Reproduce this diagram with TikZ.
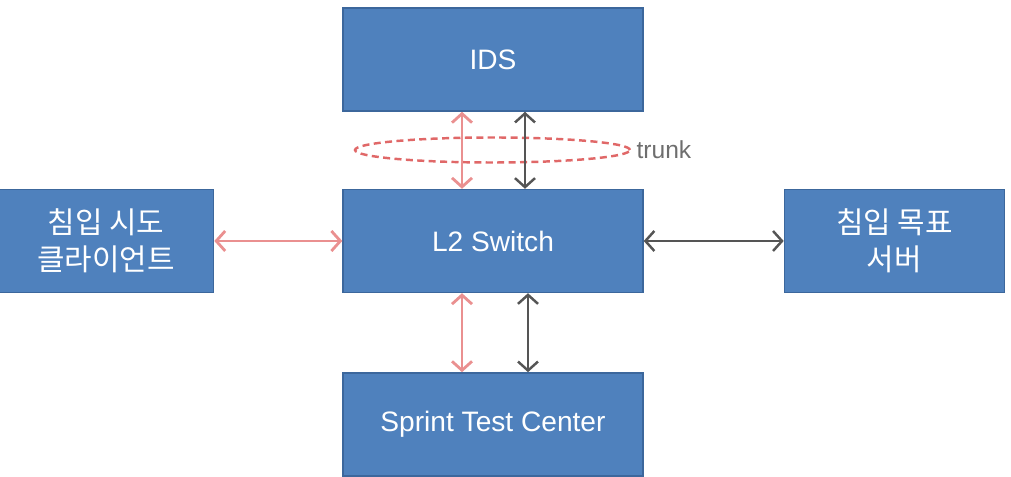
\documentclass[tikz,border=0pt]{standalone}
\usepackage{fontspec}
\setmainfont{Liberation Sans}
\newfontfamily\krfont{Noto Sans CJK KR}
\usepackage{xcolor}
\usetikzlibrary{arrows.meta,positioning,shapes.geometric}
\definecolor{boxblue}{HTML}{4F81BD}
\definecolor{boxedge}{HTML}{3C679C}
\definecolor{linkred}{HTML}{EA9090}
\definecolor{linkgrey}{HTML}{555555}
\definecolor{ringred}{HTML}{E06868}

\begin{document}
\begin{tikzpicture}[
  font=\fontsize{16}{21}\selectfont,
  box/.style={draw=boxedge, line width=0.8pt, fill=boxblue, text=white,
    align=center, minimum height=2.06cm, inner sep=2pt},
  redarr/.style={{Straight Barb[length=1.8mm, width=4mm]}-{Straight Barb[length=1.8mm, width=4mm]},
    draw=linkred, line width=1.6pt},
  greyarr/.style={{Straight Barb[length=1.8mm, width=4mm]}-{Straight Barb[length=1.8mm, width=4mm]},
    draw=linkgrey, line width=1.4pt}
]
\useasboundingbox (0,0) rectangle (20.22,-9.54);

% --- centre column: IDS / switch / test center ---
\node[box, minimum width=6cm] (sw) at (9.86,-4.82) {L2 Switch};
\node[box, minimum width=6cm, above=1.54cm of sw] (ids) {IDS};
\node[box, minimum width=6cm, below=1.58cm of sw] (stc) {Sprint Test Center};

% --- side boxes ---
\node[box, minimum width=4.3cm, left=2.56cm of sw, font=\krfont\fontsize{17}{21}\selectfont] (cli)
  {침입 시도\\클라이언트};
\node[box, minimum width=4.4cm, right=2.8cm of sw, font=\krfont\fontsize{17}{21}\selectfont] (srv)
  {침입 목표\\서버};

% --- trunk ring ---
\node[draw=ringred, dash pattern=on 4pt off 2.5pt, line width=1.4pt, ellipse,
      minimum width=5.5cm, minimum height=0.5cm, inner sep=0pt] (ring) at (9.85,-3.0) {};
\node[right=0.1cm of ring, text=linkgrey!85, font=\fontsize{14}{16}\selectfont,
      inner sep=0pt] (trunk) {trunk};

% --- links ---
\draw[redarr] ([xshift=-0.62cm]ids.south) -- ([xshift=-0.62cm]sw.north);
\draw[greyarr] ([xshift=0.64cm]ids.south) -- ([xshift=0.64cm]sw.north);
\draw[redarr] ([xshift=-0.62cm]sw.south) -- ([xshift=-0.62cm]stc.north);
\draw[greyarr] ([xshift=0.7cm]sw.south) -- ([xshift=0.7cm]stc.north);
\draw[redarr] (cli.east) -- (sw.west);
\draw[greyarr] (sw.east) -- (srv.west);
\end{tikzpicture}
\end{document}
